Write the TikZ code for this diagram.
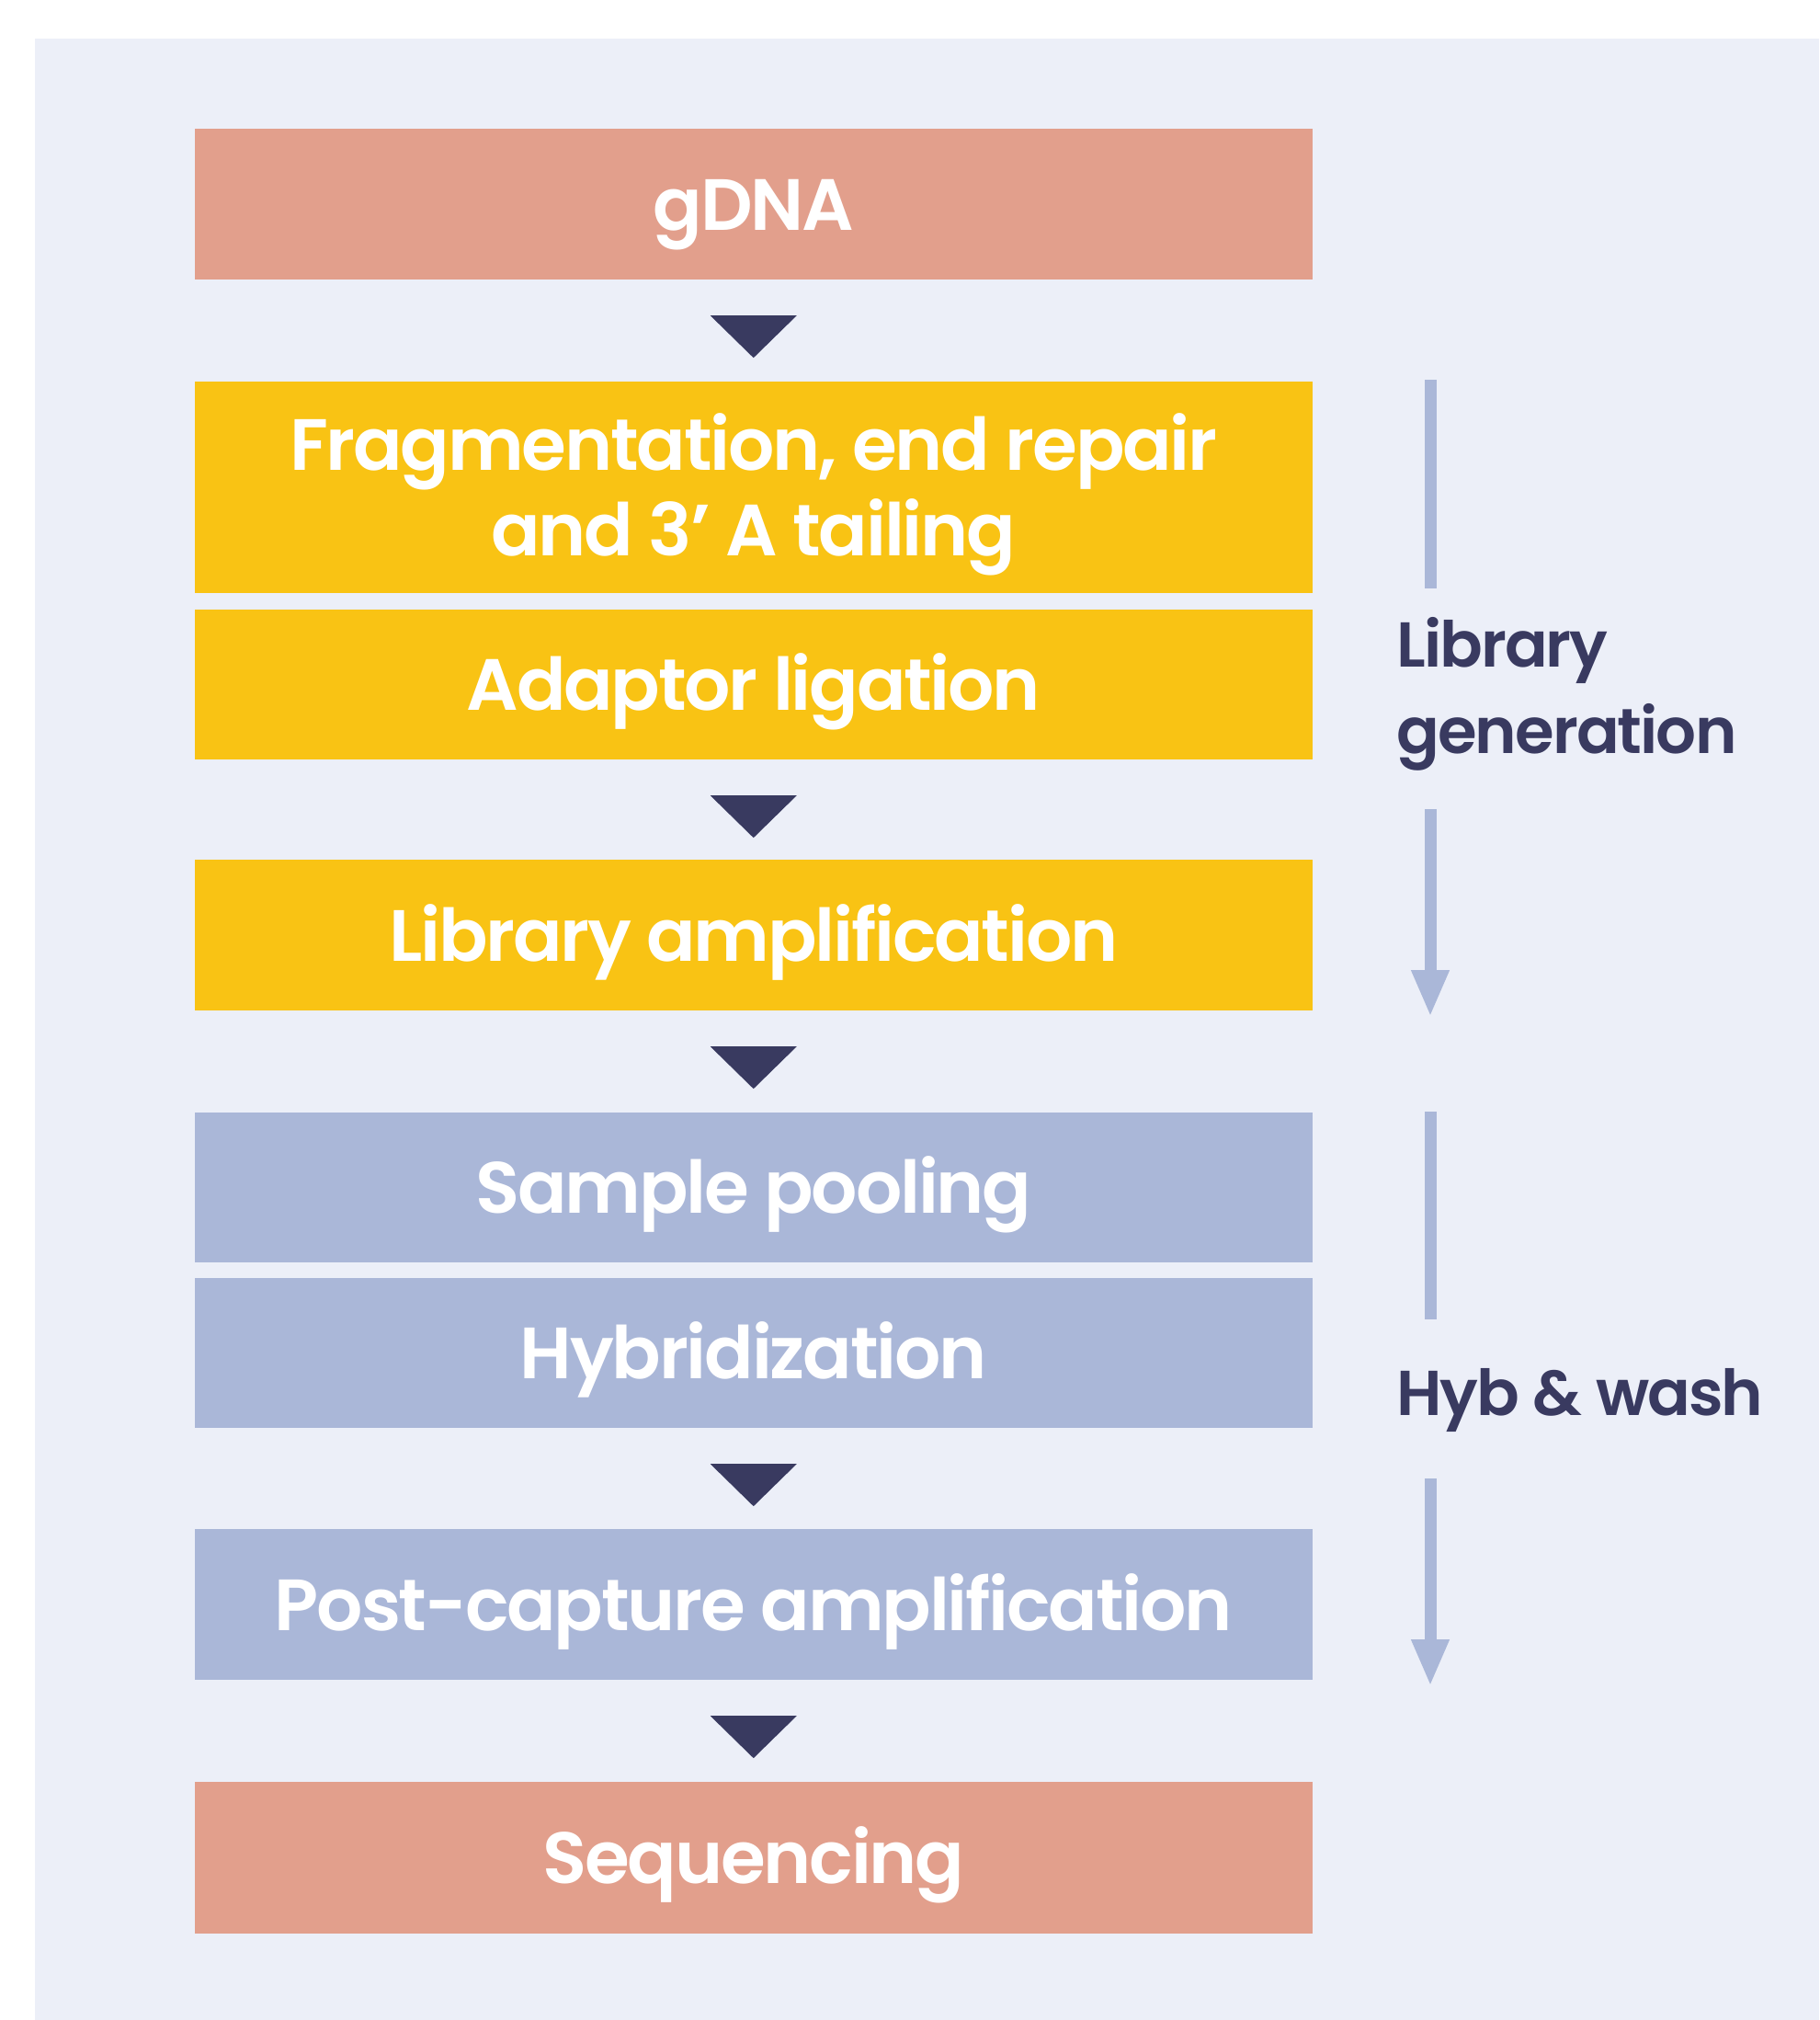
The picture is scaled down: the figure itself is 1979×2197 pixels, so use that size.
\documentclass[tikz,border=0pt]{standalone}
\usepackage{fontspec}
\IfFontExistsTF{Poppins SemiBold}
  {\setmainfont{Poppins}[BoldFont={Poppins SemiBold}, LetterSpace=-2.8]}
  {\setmainfont{Poppins}[LetterSpace=-2.8]}
\usetikzlibrary{arrows.meta,calc}

\definecolor{panelbg}{HTML}{ECEFF8}
\definecolor{salmon}{HTML}{E29F8C}
\definecolor{amber}{HTML}{F9C314}
\definecolor{lavender}{HTML}{AAB7D8}
\definecolor{navy}{HTML}{393A60}

\tikzset{
  stepbox/.style={rectangle, inner sep=0pt, minimum width=1216.5pt,
    text=white, align=center,
    font=\fontsize{79}{93}\selectfont\bfseries,
    text height=56pt, text depth=0pt},
  phase/.style={anchor=base west, inner sep=0pt, text=navy, align=left,
    font=\fontsize{69}{93.5}\selectfont\bfseries},
  flowtip/.style={fill=navy},
  phaseline/.style={draw=lavender, line width=13pt, line cap=butt},
  phasearrow/.style={phaseline, -{Triangle[width=38pt,length=51pt]}},
}

\begin{document}
\begin{tikzpicture}[x=1pt,y=-1pt]
  \useasboundingbox (0,0) rectangle (1979,2197);
  \fill[panelbg] (38,42) rectangle (1979,2197);

  % workflow steps
  \node[stepbox, fill=salmon,   minimum height=164pt] (gdna) at (819.75,222)   {gDNA};
  \node[stepbox, fill=amber,    minimum height=230pt, text height=149pt]
        (frag) at (819.75,530) {Fragmentation, end repair\\and 3’ A tailing};
  \node[stepbox, fill=amber,    minimum height=163pt] (adap) at (819.75,744.5) {Adaptor ligation};
  \node[stepbox, fill=amber,    minimum height=164pt] (lamp) at (819.75,1017)  {Library amplification};
  \node[stepbox, fill=lavender, minimum height=163pt] (pool) at (819.75,1291.5){Sample pooling};
  \node[stepbox, fill=lavender, minimum height=163pt] (hyb)  at (819.75,1471.5){Hybridization};
  \node[stepbox, fill=lavender, minimum height=164pt] (pcap) at (819.75,1745)  {Post-capture amplification};
  \node[stepbox, fill=salmon,   minimum height=165pt] (seq)  at (819.75,2020.5){Sequencing};

  % downward triangles between consecutive steps
  \foreach \src in {gdna,adap,lamp,hyb,pcap}{
    \fill[flowtip] ($(\src.south)+(-47,39)$) -- ($(\src.south)+(47,39)$)
      -- ($(\src.south)+(0,85)$) -- cycle;
  }

  % phase indicators
  \coordinate (lgA) at (1556,413);
  \coordinate (lgB) at (1556,640);
  \coordinate (lgC) at (1556,880);
  \coordinate (lgD) at (1556,1106);
  \coordinate (hwA) at (1556,1209);
  \coordinate (hwB) at (1556,1435);
  \coordinate (hwC) at (1556,1608);
  \coordinate (hwD) at (1556,1834);

  \draw[phaseline]  (lgA) -- (lgB);
  \draw[phasearrow] (lgC) -- (lgD);
  \draw[phaseline]  (hwA) -- (hwB);
  \draw[phasearrow] (hwC) -- (hwD);

  % the base of a two-line label is its last line
  \node[phase] (libgen) at (1519,819)  {Library\\generation};
  \node[phase] (hybw)   at (1519,1539) {Hyb \& wash};
\end{tikzpicture}
\end{document}
